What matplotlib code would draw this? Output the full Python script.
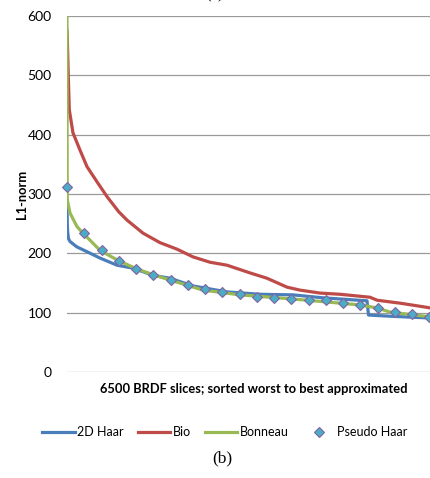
import matplotlib.pyplot as plt

# values (index of sorted slice, L1-norm)
haar_x = [0, 5, 10, 25, 52, 169, 342, 574, 869, 1147, 1495, 1790, 2190, 2781,
          3354, 3928, 4449, 5214, 5240, 5614, 6309, 6500]
haar_y = [290, 250, 238, 225, 220, 211, 203, 192, 180, 175, 163, 158, 145, 135,
          131, 130, 125, 120, 96, 94, 91, 90]

bio_x = [0, 5, 23, 40, 104, 226, 348, 539, 700, 900, 1043, 1321, 1616, 1912,
         2190, 2485, 2781, 3181, 3476, 3824, 4050, 4400, 4745, 5266, 5388,
         5788, 6187, 6500]
bio_y = [575, 563, 497, 442, 403, 374, 346, 318, 295, 270, 256, 234, 218, 207,
         194, 185, 180, 167, 158, 143, 138, 133, 131, 126, 121, 116, 110, 105]

bonneau_x = [0, 3, 5, 52, 174, 278, 574, 869, 1182, 1495, 1790, 2364, 3007,
             3928, 4519, 5092, 5388, 5614, 6309, 6500]
bonneau_y = [600, 312, 290, 268, 245, 234, 205, 189, 175, 164, 155, 138, 130,
             123, 118, 113, 108, 101, 93, 91]

pseudo_x = [300 * k for k in range(22)]
pseudo_y = [312, 234, 205, 187, 174, 164, 155, 147, 140, 135, 131, 127, 125,
            123, 122, 121, 117, 113, 108, 101, 97, 93]

plt.rcParams['font.family'] = ['Lato', 'DejaVu Sans']

fig = plt.figure(figsize=(4.3, 4.78), dpi=100)
ax = fig.add_axes([67 / 430, 1 - 372 / 478, 374 / 430, 356 / 478])

ax.plot(haar_x, haar_y, color='#4A7EBB', lw=2.3, label='2D Haar')
ax.plot(bio_x, bio_y, color='#BE4B48', lw=2.3, label='Bio')
ax.plot(bonneau_x, bonneau_y, color='#98B954', lw=2.3, label='Bonneau')
ax.plot(pseudo_x, pseudo_y, ls='none', marker='D', ms=5.5, mfc='#4BACC6',
        mec='#8064A2', mew=0.8, label='Pseudo Haar', clip_on=False)

ax.set_xlim(0, 6500)
ax.set_ylim(0, 600)
ax.set_yticks(range(0, 601, 100))
ax.set_xticks([])
ax.tick_params(axis='y', length=0, pad=11, labelsize=10)
ax.grid(axis='y', color='#9a9a9a', lw=0.9)
ax.set_axisbelow(True)
for s in ax.spines.values():
    s.set_visible(False)

ax.set_xlabel('6500 BRDF slices; sorted worst to best approximated',
              fontsize=9.3, fontweight='bold', labelpad=8)
fig.text(22 / 430, 1 - 194 / 478, 'L1-norm', rotation=90, fontsize=9.3,
         fontweight='bold', ha='center', va='center')

fig.legend(loc='center', bbox_to_anchor=(225 / 430, 1 - 432 / 478), ncol=4,
           frameon=False, fontsize=9, handlelength=2.6, handletextpad=0.2,
           columnspacing=1.1)

fig.text(222 / 430, 1 - 458 / 478, '(b)', fontsize=12.5,
         family=['Liberation Serif', 'DejaVu Serif'], ha='center', va='center')
fig.text(215 / 430, 1 - 2 / 478, '(a)', fontsize=12,
         family=['Liberation Serif', 'DejaVu Serif'], ha='center', va='bottom')

fig.savefig('out.png', dpi=100)
